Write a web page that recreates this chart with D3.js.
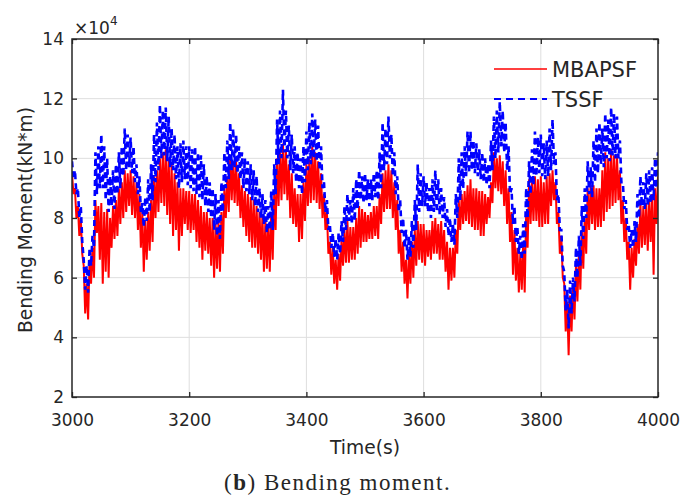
<!DOCTYPE html>
<html>
<head>
<meta charset="utf-8">
<script src="https://cdn.jsdelivr.net/npm/d3@7"></script>
<style>
  body { margin: 0; background: #fff; }
  text { font-family: "DejaVu Sans", sans-serif; fill: #262626; }
</style>
</head>
<body>
<svg id="chart" width="684" height="500"></svg>
<script>
// x ticks (s), y ticks (x 10^4 kN*m)
const xTicks = [3000, 3200, 3400, 3600, 3800, 4000];
const yTicks = [2, 4, 6, 8, 10, 12, 14];
const seriesNames = ["MBAPSF", "TSSF"];

// samples every 2.5 s starting at 3000 s (x 10^4)
const timeStart = 3000;
const timeStep = 2.5;

const mbapsf = [
  9.5,8.8,9.0,8.0, 8.4,7.4,8.0,6.8, 6.4,4.8,5.8,4.6, 6.6,5.8,7.0,6.0, 8.6,7.5,8.4,6.6, 8.5,5.8,8.2,6.2, 8.3,6.0,8.0,7.0, 8.4,7.3,8.6,7.4, 9.0,7.8,9.2,8.0, 9.6,8.2,9.5,8.4,
  9.6,8.1,9.4,8.0, 9.2,7.6,8.8,7.0, 8.2,6.2,7.9,6.6, 8.2,6.9,8.6,7.2, 9.4,8.0,9.6,8.2, 10.0,8.5,10.2,8.4, 10.3,8.1,10.0,7.8, 9.8,7.4,9.5,7.6, 9.2,6.9,9.0,7.4, 9.0,7.8,8.9,7.6,
  8.9,7.5,8.8,7.6, 8.8,7.2,8.6,7.0, 8.4,6.6,8.2,6.9, 8.2,6.8,8.0,6.4, 8.0,6.0,7.8,6.3, 7.9,6.2,8.2,6.8, 9.0,8.0,9.4,8.2, 10.1,8.6,9.9,8.5, 9.9,8.4,9.5,8.0, 9.1,7.7,8.9,7.4,
  8.8,7.2,8.7,7.0, 8.6,7.0,8.4,6.8, 8.2,6.6,8.1,6.2, 7.9,6.3,7.8,6.2, 8.2,6.6,8.8,7.6, 10.0,8.4,10.2,8.6, 10.5,8.8,10.3,8.6, 9.8,8.0,9.5,7.8, 9.0,7.7,8.8,7.2, 8.8,7.3,9.2,7.9,
  9.8,8.4,10.0,8.5, 10.4,8.6,10.2,8.5, 9.9,8.3,9.5,8.0, 8.8,7.6,8.2,6.8, 7.2,6.1,7.0,5.8, 6.6,5.6,6.8,5.9, 7.3,6.4,7.6,6.5, 7.9,6.5,7.7,6.6, 7.7,6.6,8.0,6.8, 8.4,7.0,8.3,7.2,
  8.2,7.2,8.1,7.3, 8.2,7.3,8.4,7.4, 8.4,7.3,8.8,7.8, 9.5,8.2,9.6,8.3, 9.8,8.3,9.6,8.0, 9.2,7.6,8.6,6.8, 7.6,6.2,7.2,5.8, 6.6,5.3,6.8,5.8, 7.2,6.0,7.6,6.4, 7.9,6.6,7.8,6.5,
  7.8,6.4,7.6,6.7, 7.6,6.6,7.9,6.8, 8.0,6.8,7.8,6.6, 7.9,6.6,7.6,6.2, 7.2,5.6,7.0,5.9, 7.0,6.0,7.6,6.8, 8.6,7.6,8.8,7.8, 8.9,7.9,9.1,7.8, 9.3,7.7,9.0,7.6, 9.0,7.6,8.9,7.4,
  8.9,7.4,8.8,7.8, 8.7,8.0,9.2,8.5, 10.2,9.0,10.0,8.9, 10.1,8.8,9.9,8.4, 9.6,7.8,9.0,7.2, 8.2,6.1,7.6,5.9, 7.0,5.5,6.8,5.6, 7.2,5.5,8.2,7.0, 9.3,7.8,9.2,7.9, 9.4,7.9,9.3,7.7,
  9.4,7.7,9.2,7.8, 9.4,7.8,9.5,8.4, 9.6,8.6,9.2,7.8, 8.2,6.8,7.4,6.0, 5.8,4.2,5.2,3.4, 5.4,4.2,5.8,4.6, 6.4,5.2,6.8,5.6, 7.6,6.3,8.0,6.8, 9.0,7.6,9.1,7.8, 9.1,7.6,9.0,7.7,
  9.0,7.7,9.6,7.9, 10.2,8.2,10.0,8.3, 10.3,8.4,10.1,8.5, 10.1,8.6,9.6,7.8, 8.6,7.2,8.0,6.6, 7.2,5.6,7.0,6.0, 7.3,6.4,7.8,6.8, 8.5,7.0,8.4,7.1, 8.5,6.9,8.6,7.2, 8.8,6.1,9.0,7.8,
  9.4
];

const tssf = [
  9.9,9.3,9.6,8.8, 9.0,8.0,8.4,7.2, 6.6,5.6,6.4,5.5, 7.0,6.4,7.4,7.0, 10.2,8.8,10.4,9.0, 10.8,9.0,10.4,8.6, 10.0,8.2,9.4,8.4, 9.6,8.3,9.8,8.8, 10.2,9.0,10.4,9.4, 11.0,9.6,10.8,9.7,
  10.7,9.5,10.4,9.2, 9.8,8.8,9.4,8.2, 8.5,7.7,8.7,7.9, 9.3,8.2,9.8,8.6, 10.8,9.2,11.2,9.6, 11.8,10.0,11.6,10.1, 11.7,9.9,11.4,9.7, 11.0,9.6,10.8,9.3, 10.4,9.0,10.5,9.2, 10.6,9.3,10.4,9.1,
  10.4,9.0,10.3,8.9, 10.4,8.8,10.2,8.7, 10.1,8.6,9.8,8.4, 9.4,8.2,9.2,8.0, 9.0,7.6,8.8,7.4, 8.6,7.3,9.2,8.2, 10.2,9.0,10.6,9.3, 11.2,9.6,11.0,9.7, 10.8,9.5,10.4,9.3, 10.2,9.0,10.0,8.9,
  9.9,8.8,9.8,8.6, 9.6,8.4,9.4,8.2, 9.0,8.0,8.8,7.8, 8.6,7.5,8.4,7.6, 8.9,7.6,9.8,8.8, 11.3,9.8,11.6,10.0, 12.3,10.2,11.6,10.0, 11.1,9.6,10.8,9.5, 10.4,9.2,10.2,9.0, 10.0,8.8,10.4,9.2,
  10.9,9.6,11.2,9.8, 11.5,10.0,11.3,9.9, 11.1,9.6,10.4,9.0, 9.2,8.2,8.6,7.6, 7.8,7.0,7.5,6.7, 7.3,6.6,7.5,6.8, 7.9,7.2,8.4,7.6, 8.8,7.9,8.6,7.8, 9.0,7.9,9.3,8.3, 9.6,8.6,9.4,8.5,
  9.5,8.6,9.3,8.4, 9.3,8.6,9.5,8.7, 9.6,8.6,10.2,9.0, 11.2,9.6,11.0,9.8, 11.4,10.0,10.8,9.4, 10.2,8.8,9.4,8.2, 8.6,7.5,8.0,7.0, 7.6,6.6,7.4,6.7, 7.9,7.0,8.6,7.6, 9.8,8.2,9.5,8.4,
  9.4,8.4,9.2,8.2, 9.0,8.0,9.3,8.2, 9.6,8.2,9.3,8.1, 9.0,8.0,8.7,7.7, 8.3,7.4,8.0,7.2, 7.8,7.1,8.8,8.0, 10.0,8.6,10.2,9.0, 10.4,9.4,10.9,9.5, 10.9,9.6,10.6,9.5, 10.5,9.4,10.3,9.3,
  10.2,9.2,10.0,9.1, 9.8,9.0,10.6,9.6, 11.4,10.0,11.6,10.2, 11.9,10.4,11.6,10.2, 11.2,9.6,10.4,8.8, 9.0,7.8,8.4,7.2, 7.7,6.8,7.4,6.6, 7.8,6.8,9.0,8.0, 9.9,8.8,10.3,9.1, 10.9,9.4,10.7,9.5,
  10.8,9.4,10.5,9.3, 10.6,9.4,11.0,9.6, 11.3,9.8,10.2,8.6, 8.8,7.6,7.6,6.4, 6.2,4.9,5.6,4.3, 5.9,4.8,6.0,5.2, 7.0,6.0,7.4,6.4, 8.4,7.3,9.0,8.0, 9.9,8.8,9.7,8.7, 10.6,9.2,11.0,9.5,
  11.2,9.8,11.0,9.7, 11.5,10.0,11.3,9.9, 11.7,10.1,11.5,10.0, 11.4,10.0,10.6,9.2, 9.2,8.3,8.6,7.6, 7.8,7.0,7.6,7.0, 7.9,7.2,8.8,8.0, 9.4,8.4,9.2,8.3, 9.5,8.4,9.6,8.5, 9.7,8.6,10.0,9.0,
  10.2
];

const svg = d3.select("#chart");
const margin = {top: 39, right: 26, bottom: 103, left: 72};
const width = 684 - margin.left - margin.right;
const height = 500 - margin.top - margin.bottom;

const x = d3.scaleLinear().domain([3000, 4000]).range([0, width]);
const y = d3.scaleLinear().domain([2, 14]).range([height, 0]);

const g = svg.append("g").attr("transform", "translate(" + margin.left + "," + margin.top + ")");

// grid
g.append("g").selectAll("line").data(xTicks.slice(1, -1)).enter().append("line")
  .attr("x1", d => x(d)).attr("x2", d => x(d)).attr("y1", 0).attr("y2", height)
  .attr("stroke", "#dedede").attr("stroke-width", 1);
g.append("g").selectAll("line").data(yTicks.slice(1, -1)).enter().append("line")
  .attr("y1", d => y(d)).attr("y2", d => y(d)).attr("x1", 0).attr("x2", width)
  .attr("stroke", "#dedede").attr("stroke-width", 1);

g.append("clipPath").attr("id", "plotclip").append("rect")
  .attr("width", width).attr("height", height);

const times = mbapsf.map((d, i) => timeStart + i * timeStep);
const line = d3.line().x((d, i) => x(times[i])).y(d => y(d));

const plot = g.append("g").attr("clip-path", "url(#plotclip)");
plot.append("path").datum(mbapsf)
  .attr("fill", "none").attr("stroke", "#ff0000").attr("stroke-width", 2)
  .attr("d", line);
plot.append("path").datum(tssf)
  .attr("fill", "none").attr("stroke", "#0000ff").attr("stroke-width", 2.6)
  .attr("stroke-dasharray", "6,4").attr("d", line);

// axes, MATLAB style: ticks inward on all four sides
g.append("g").attr("transform", "translate(0," + height + ")")
  .call(d3.axisBottom(x).tickValues(xTicks).tickFormat(d3.format("d"))
    .tickSizeInner(-5).tickSizeOuter(0).tickPadding(17));
g.append("g")
  .call(d3.axisLeft(y).tickValues(yTicks).tickFormat(d3.format("d"))
    .tickSizeInner(-5).tickSizeOuter(0).tickPadding(8));
g.append("g")
  .call(d3.axisTop(x).tickValues(xTicks).tickFormat("").tickSizeInner(-5).tickSizeOuter(0));
g.append("g").attr("transform", "translate(" + width + ",0)")
  .call(d3.axisRight(y).tickValues(yTicks).tickFormat("").tickSizeInner(-5).tickSizeOuter(0));

g.selectAll(".domain").remove();
g.selectAll(".tick line").attr("stroke", "#262626").attr("stroke-width", 1.3);
g.selectAll(".tick text").style("font-size", "17px")
  .style("font-family", "'DejaVu Sans', sans-serif").attr("fill", "#262626");

g.append("rect").attr("width", width).attr("height", height)
  .attr("fill", "none").attr("stroke", "#262626").attr("stroke-width", 1.5);

// exponent label
const expo = svg.append("text").attr("x", 74).attr("y", 34).style("font-size", "17px");
expo.append("tspan").text("\u00d710");
expo.append("tspan").attr("dy", -9).style("font-size", "12px").text("4");

// axis titles
svg.append("text")
  .attr("transform", "translate(32," + (margin.top + height / 2 + 2) + ") rotate(-90)")
  .attr("text-anchor", "middle").style("font-size", "18.7px")
  .text("Bending Moment(kN*m)");
svg.append("text")
  .attr("x", margin.left + width / 2).attr("y", 454)
  .attr("text-anchor", "middle").style("font-size", "18.7px")
  .text("Time(s)");

// legend (no box)
const legend = svg.append("g");
const legendRows = [
  {name: seriesNames[0], color: "#ff0000", dash: null, w: 1.6, y: 69},
  {name: seriesNames[1], color: "#0000ff", dash: "7,5", w: 2, y: 99}
];
legendRows.forEach(r => {
  legend.append("line").attr("x1", 494).attr("x2", 547).attr("y1", r.y).attr("y2", r.y)
    .attr("stroke", r.color).attr("stroke-width", r.w)
    .attr("stroke-dasharray", r.dash);
  legend.append("text").attr("x", 552).attr("y", r.y + 8).style("font-size", "21px").text(r.name);
});

// caption
const cap = svg.append("text").attr("x", 224).attr("y", 490)
  .style("font-family", "'Liberation Serif', serif").style("font-size", "23px")
  .style("letter-spacing", "1.5px").attr("fill", "#000");
cap.append("tspan").text("(");
cap.append("tspan").style("font-weight", "bold").text("b");
cap.append("tspan").text(") Bending moment.");
</script>
</body>
</html>
